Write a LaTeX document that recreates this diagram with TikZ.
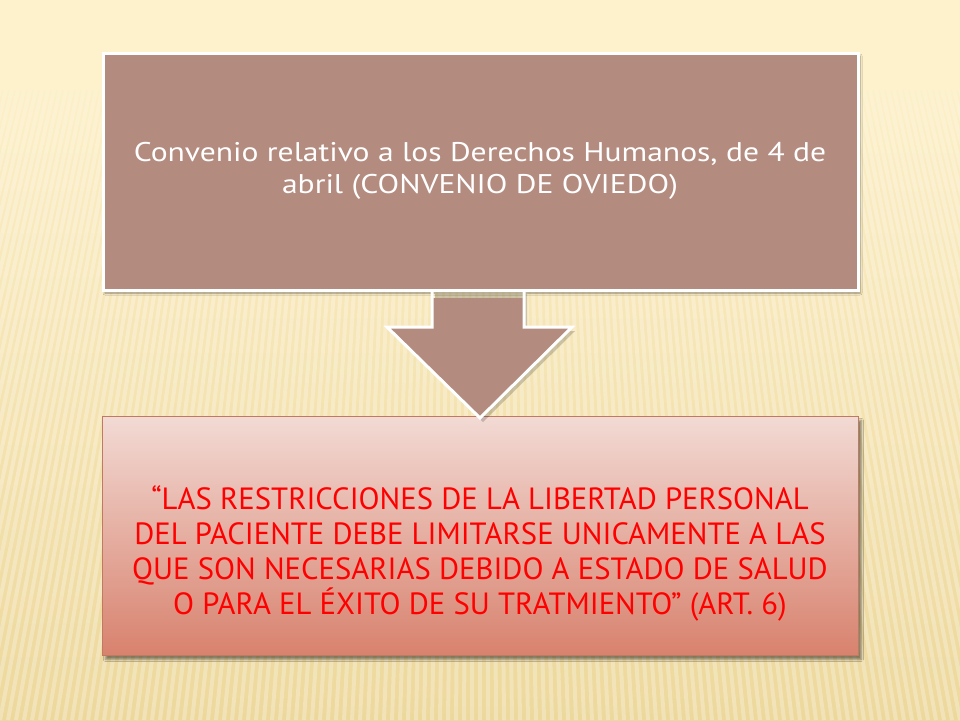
\documentclass[tikz,border=0pt]{standalone}
\usepackage{fontspec}
\setmainfont{PT Sans}
\newfontfamily\widefont[FakeStretch=1.17]{PT Sans}
\usetikzlibrary{shadows.blur,fadings}
\definecolor{bgtop}{HTML}{FEF2CC}
\definecolor{bgbot}{HTML}{EDD89C}
\definecolor{boxone}{HTML}{B38B7F}
\definecolor{boxtwotop}{HTML}{F2DAD4}
\definecolor{boxtwobot}{HTML}{D8826E}
\definecolor{boxtwoline}{HTML}{C07A60}
\definecolor{redtext}{HTML}{FF0000}
\tikzfading[name=fadedown, top color=transparent!0, bottom color=transparent!100]
\tikzset{
  upperbox/.style={fill=boxone, draw=white, line width=3pt, blur shadow={shadow xshift=2pt, shadow yshift=-3pt, shadow blur steps=6, shadow opacity=40}},
  lowerbox/.style={top color=boxtwotop, bottom color=boxtwobot, draw=boxtwoline, line width=0.8pt, blur shadow={shadow xshift=3pt, shadow yshift=-4pt, shadow blur steps=6, shadow opacity=45}},
  uppertext/.style={text=white, align=center, font=\widefont\fontsize{27}{32}\selectfont},
  lowertext/.style={text=redtext, align=center, font=\fontsize{30.7}{35}\selectfont},
}
\begin{document}
\begin{tikzpicture}[x=1pt,y=-1pt]
\useasboundingbox (0,0) rectangle (960,720);
% background
\shade[top color=bgtop, bottom color=bgbot] (0,0) rectangle (960,720);
\begin{scope}
\clip (0,0) rectangle (960,720);
\foreach \i in {-60,...,140} {
  \draw[white, opacity=0.28, line width=4pt] (480,-1800) -- ({\i*8},720);
}
\end{scope}
\fill[bgtop, path fading=fadedown] (0,0) rectangle (960,180);
\fill[bgtop] (0,0) rectangle (960,90);

% lower box
\node[lowerbox, minimum width=756pt, minimum height=239pt, anchor=north west, inner sep=0pt] (lower) at (102,416) {};
\node[lowertext] (lowertxt) at (480,553) {“LAS RESTRICCIONES DE LA LIBERTAD PERSONAL\\DEL PACIENTE DEBE LIMITARSE UNICAMENTE A LAS\\QUE SON NECESARIAS DEBIDO A ESTADO DE SALUD\\O PARA EL ÉXITO DE SU TRATMIENTO” (ART. 6)};

% upper box
\node[upperbox, minimum width=755pt, minimum height=237pt, anchor=north west, inner sep=0pt] (upper) at (101.5,51.5) {};

% arrow
\coordinate (sl) at (432,290);
\coordinate (sr) at (524,290);
\coordinate (nl) at (432,327);
\coordinate (nr) at (524,327);
\coordinate (hl) at (387,327);
\coordinate (hr) at (572,327);
\coordinate (tip) at (480,418);
\fill[black, opacity=0.18] ([shift={(3,4)}]sl) -- ([shift={(3,4)}]nl) -- ([shift={(3,4)}]hl) -- ([shift={(3,4)}]tip) -- ([shift={(3,4)}]hr) -- ([shift={(3,4)}]nr) -- ([shift={(3,4)}]sr) -- cycle;
\fill[boxone] ([yshift=-8]sl) -- (nl) -- (hl) -- (tip) -- (hr) -- (nr) -- ([yshift=-8]sr) -- cycle;
\draw[white, line width=3pt, line join=miter] ([yshift=-1.5]sl) -- (nl) -- (hl) -- (tip) -- (hr) -- (nr) -- ([yshift=-1.5]sr);

\node[uppertext] (uppertxt) at (480,171) {Convenio relativo a los Derechos Humanos, de 4 de\\abril (CONVENIO DE OVIEDO)};
\end{tikzpicture}
\end{document}
